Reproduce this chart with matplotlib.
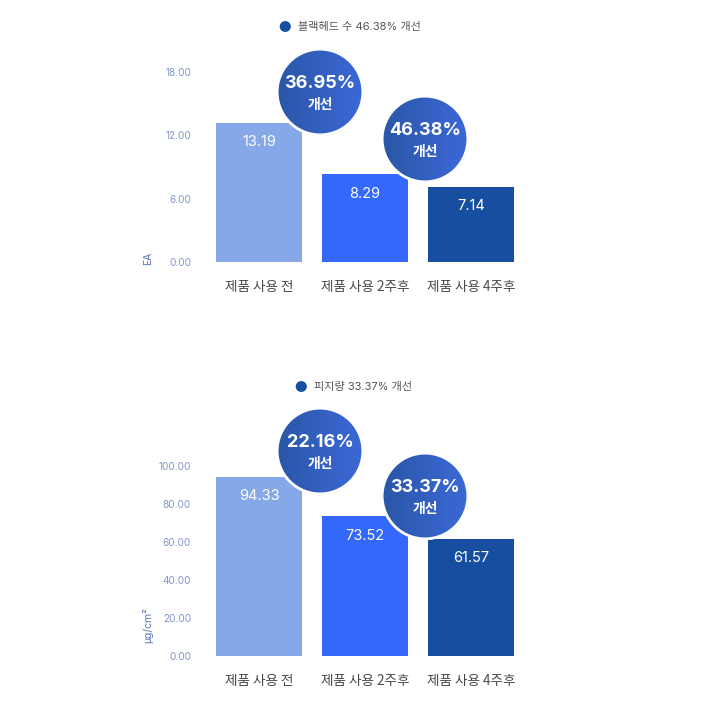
import numpy as np
import matplotlib
matplotlib.use('Agg')
import matplotlib.pyplot as plt
from matplotlib.colors import LinearSegmentedColormap
from matplotlib.patches import Circle

plt.rcParams['font.family'] = ['Noto Sans CJK KR', 'DejaVu Sans']
NUM_FONT = ['Inter', 'Noto Sans CJK KR', 'DejaVu Sans']

# ── Data ──────────────────────────────────────────────────────────────────────
categories = ['제품 사용 전', '제품 사용 2주후', '제품 사용 4주후']
bar_colors = ['#86a8e8', '#3467fb', '#174ea0']

top_values = [13.19, 8.29, 7.14]
top_ticks = [0, 6, 12, 18]
top_badges = ['36.95%', '46.38%']
top_title = '블랙헤드 수 46.38% 개선'
top_unit = 'EA'

bot_values = [94.33, 73.52, 61.57]
bot_ticks = [0, 20, 40, 60, 80, 100]
bot_badges = ['22.16%', '33.37%']
bot_title = '피지량 33.37% 개선'
bot_unit = 'μg/cm²'

W = H = 714
fig = plt.figure(figsize=(7.14, 7.14), dpi=100)
fig.patch.set_facecolor('white')

grad = LinearSegmentedColormap.from_list('badge', ['#2a57a6', '#3c68d8'])


def px(x, y, w, h):
    # pixel box (top-left origin) -> figure fraction
    return [x / W, 1 - (y + h) / H, w / W, h / H]


def panel(y_zero, values, ticks, unit, unit_y):
    ax = fig.add_axes(px(205, y_zero - 190, 320, 190))
    x = np.arange(len(values))
    ax.bar(x, values, width=0.81, color=bar_colors)
    ax.set_xlim(-0.51, 2.51)
    ax.set_ylim(0, ticks[-1])
    ax.set_yticks(ticks)
    ax.set_yticklabels([f'{t:.2f}' for t in ticks], color='#8295c8', fontsize=7.2,
                       family=NUM_FONT)
    ax.set_xticks(x)
    ax.set_xticklabels(categories, color='#4a4a4a', fontsize=9.8)
    ax.tick_params(length=0)
    ax.tick_params(axis='y', pad=10)
    ax.tick_params(axis='x', pad=13)
    for s in ax.spines.values():
        s.set_visible(False)
    for xi, v in zip(x, values):
        ax.annotate(f'{v:.2f}', (xi, v), xytext=(0, -14), textcoords='offset points',
                    ha='center', va='center', color='white', fontsize=10.5,
                    family=NUM_FONT)
    fig.text(148 / W, 1 - unit_y / H, unit, rotation=90, ha='center', va='center',
             color='#5a74bb', fontsize=7.5, family=NUM_FONT)
    return ax


def badge(cx, cy, pct, r=43):
    bax = fig.add_axes(px(cx - r - 2, cy - r - 2, 2 * r + 4, 2 * r + 4))
    bax.set_xlim(-1.05, 1.05)
    bax.set_ylim(-1.05, 1.05)
    bax.axis('off')
    bax.add_patch(Circle((0.02, -0.03), 1.0, color='#000000', alpha=0.08, lw=0))
    img = bax.imshow(np.linspace(0, 1, 256).reshape(1, -1), cmap=grad,
                     extent=(-1, 1, -1, 1), aspect='auto', zorder=2)
    img.set_clip_path(Circle((0, 0), 1.0, transform=bax.transData))
    bax.add_patch(Circle((0, 0), 1.0, fill=False, ec='white', lw=2, zorder=3))
    bax.text(0, 0.2, pct, ha='center', va='center', color='white',
             fontsize=13, fontweight='bold', family=NUM_FONT, zorder=4)
    bax.text(0, -0.3, '개선', ha='center', va='center', color='white',
             fontsize=10, fontweight='bold', zorder=4)


def header(x_dot, y, text):
    fig.text(x_dot / W, 1 - y / H, '●', color='#174ea0', fontsize=9,
             ha='center', va='center')
    fig.text((x_dot + 13) / W, 1 - y / H, text, color='#555555', fontsize=8,
             ha='left', va='center', family=NUM_FONT)


# ── Top panel ────────────────────────────────────────────────────────────────
panel(262, top_values, top_ticks, top_unit, 258)
header(285, 27, top_title)
badge(320, 92, top_badges[0])
badge(425, 139, top_badges[1])

# ── Bottom panel ─────────────────────────────────────────────────────────────
panel(656, bot_values, bot_ticks, bot_unit, 625)
header(301, 387, bot_title)
badge(320, 451, bot_badges[0])
badge(425, 496, bot_badges[1])

fig.savefig('out.png', dpi=100)
